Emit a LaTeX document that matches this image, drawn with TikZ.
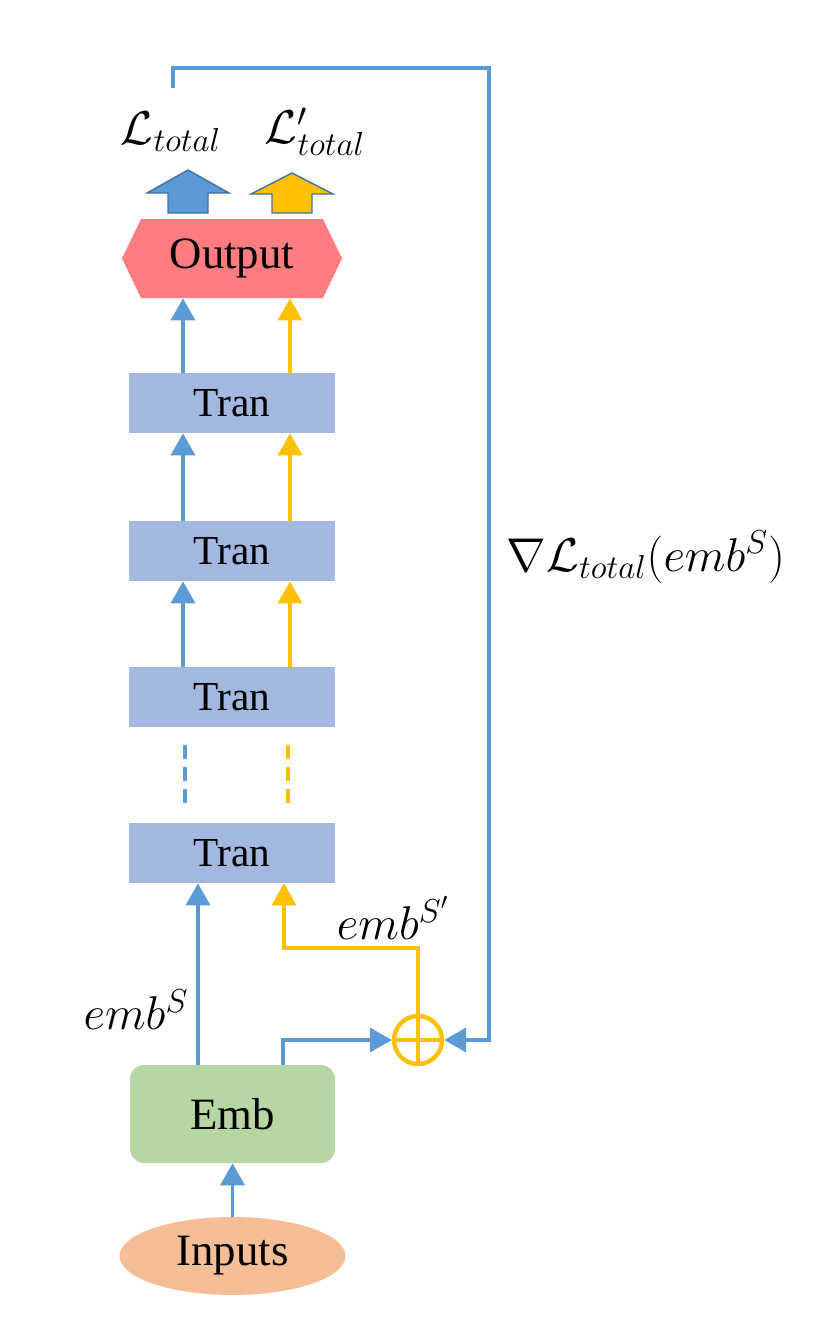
\RequirePackage{fix-cm}
\documentclass[tikz,border=0pt]{standalone}
\usepackage{fontspec}
\setmainfont{Liberation Serif}
\usetikzlibrary{arrows.meta,shapes.geometric,calc}
\definecolor{lblue}{RGB}{91,155,213}
\definecolor{lyel}{RGB}{255,192,0}
\definecolor{tranfill}{RGB}{162,184,224}
\definecolor{outfill}{RGB}{255,124,128}
\definecolor{embfill}{RGB}{184,214,164}
\definecolor{infill}{RGB}{245,190,150}
\definecolor{arrline}{RGB}{65,113,156}
\begin{document}
\begin{tikzpicture}[x=0.02cm,y=-0.02cm,
  bl/.style={draw=lblue,line width=2.1pt},
  yl/.style={draw=lyel,line width=2.1pt},
  tip/.style={-{Triangle[length=0.44cm,width=0.48cm]}},
  tranbox/.style={rectangle,fill=tranfill,minimum width=4.12cm,minimum height=1.2cm,inner sep=0pt,font=\fontsize{23.5}{28}\selectfont},
  bigtxt/.style={font=\fontsize{25.5}{30}\selectfont},
  lbl/.style={font=\fontsize{27}{32}\selectfont,inner sep=0pt},
  blockarrow/.style={draw=arrline,line width=0.8pt}]
\useasboundingbox (0,0) rectangle (816,1329);

% coordinates for vertical lanes
\coordinate (bx) at (183,0);
\coordinate (yx) at (290,0);
\coordinate (bx2) at (198,0);
\coordinate (fx) at (283,0);

% Output hexagon
\fill[outfill] (122,258.5) -- (141,219) -- (323,219) -- (342,258.5) -- (323,298) -- (141,298) -- cycle;
\node[bigtxt,minimum width=4.4cm,minimum height=1.58cm,inner sep=0pt] (out) at (232,258.5) {Output};

% Tran blocks
\node[tranbox] (t1) at (232,403) {Tran};
\node[tranbox] (t2) at (232,551) {Tran};
\node[tranbox] (t3) at (232,697) {Tran};
\node[tranbox] (t4) at (232,853) {Tran};

% Emb and Inputs
\node[bigtxt,rectangle,rounded corners=0.28cm,fill=embfill,minimum width=4.1cm,minimum height=1.96cm,inner sep=0pt] (emb) at (232.5,1114) {Emb};
\node[bigtxt,ellipse,fill=infill,minimum width=4.52cm,minimum height=1.56cm,inner sep=0pt] (in) at (232.5,1256) {Inputs};

% oplus
\node[circle,draw=lyel,line width=2.5pt,minimum size=0.96cm,inner sep=0pt] (op) at (418,1040) {};
\draw[lyel,line width=2.5pt] (op.north) -- (op.south) (op.west) -- (op.east);

% block arrows
\filldraw[fill=lblue,blockarrow] (168,213) -- (168,193) -- (147,193) -- (188,170) -- (229,193) -- (208,193) -- (208,213) -- cycle;
\filldraw[fill=lyel,blockarrow] (272,213) -- (272,194) -- (251,194) -- (292,173) -- (333,194) -- (312,194) -- (312,213) -- cycle;

% labels
\node[lbl] (lt) at (171,132) {$\mathcal{L}_{total}$};
\node[lbl] (lt2) at (315,132) {$\mathcal{L}'_{total}$};
\node[lbl] (grad) at (646,557) {$\nabla\mathcal{L}_{total}(emb^S)$};
\node[lbl] (es) at (136,1010) {$emb^S$};
\node[lbl] (es2) at (393,918) {$emb^{S'}$};

% arrows between blocks
\draw[bl,tip] (t1.north -| bx) -- (out.south -| bx);
\draw[yl,tip] (t1.north -| yx) -- (out.south -| yx);
\draw[bl,tip] (t2.north -| bx) -- (t1.south -| bx);
\draw[yl,tip] (t2.north -| yx) -- (t1.south -| yx);
\draw[bl,tip] (t3.north -| bx) -- (t2.south -| bx);
\draw[yl,tip] (t3.north -| yx) -- (t2.south -| yx);

% dashed stubs
\coordinate (d1a) at (185,745); \coordinate (d1b) at (185,803);
\coordinate (d2a) at (288,745); \coordinate (d2b) at (288,803);
\draw[bl,dash pattern=on 0.28cm off 0.16cm] (d1a) -- (d1b);
\draw[yl,dash pattern=on 0.28cm off 0.16cm] (d2a) -- (d2b);

% bottom connections
\draw[bl,tip] (emb.north -| bx2) -- (t4.south -| bx2);
\coordinate (yk) at (284,948);
\draw[yl,tip] (op.north) |- (yk) -- (t4.south -| yk);
\draw[bl,tip] (emb.north -| fx) |- (op.west);
\draw[bl,tip] (in.north) -- (emb.south);

% feedback loop
\coordinate (fb) at (173,88);
\coordinate (fc) at (489,68);
\draw[bl,tip] (fb) |- (fc) |- (op.east);
\end{tikzpicture}
\end{document}
